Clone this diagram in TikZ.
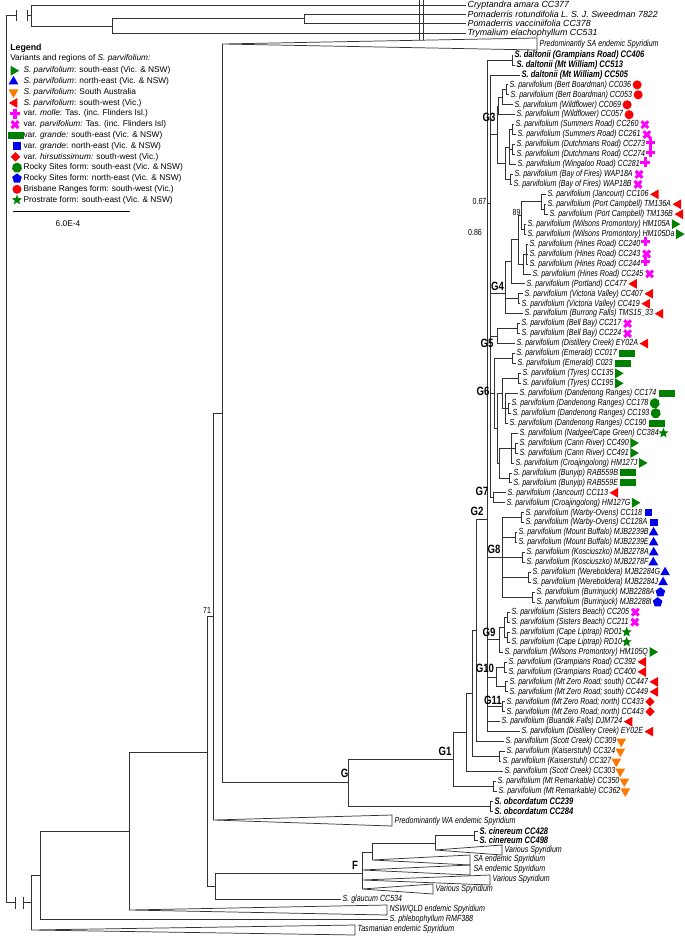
\documentclass[tikz,border=0pt]{standalone}
\usepackage{fontspec}
\setmainfont{Liberation Sans}
\newfontfamily\treefont[FakeStretch=0.8]{Liberation Sans}
\usetikzlibrary{shapes.geometric, shapes.misc, positioning, calc}
\definecolor{mkgreen}{RGB}{0,128,0}
\definecolor{mkblue}{RGB}{0,0,240}
\definecolor{mkorange}{RGB}{255,120,0}
\definecolor{mkred}{RGB}{250,0,0}
\definecolor{mkpink}{RGB}{255,0,255}
\tikzset{
  branch/.style={line width=0.55pt, draw=black!80},
  leaf/.style={anchor=west, inner sep=1pt, font=\treefont\itshape\fontsize{6.65}{7}\selectfont},
  ogleaf/.style={anchor=west, inner sep=1pt, font=\itshape\fontsize{6.65}{7}\selectfont},
  boldleaf/.style={leaf, font=\treefont\bfseries\itshape\fontsize{7.1}{8}\selectfont},
  glab/.style={inner sep=0pt, font=\treefont\bfseries\fontsize{9}{10}\selectfont},
  supp/.style={inner sep=0pt, font=\treefont\fontsize{6.6}{7}\selectfont},
  legtext/.style={anchor=west, inner sep=0pt, font=\fontsize{6.25}{7}\selectfont},
  mk/.style={inner sep=0pt, outer sep=0pt, draw=none},
  mkse/.style={mk, regular polygon, regular polygon sides=3, shape border rotate=-90, minimum size=8.5pt, fill=mkgreen},
  mkne/.style={mk, regular polygon, regular polygon sides=3, minimum size=8.5pt, fill=mkblue},
  mksa/.style={mk, regular polygon, regular polygon sides=3, shape border rotate=180, minimum size=8.5pt, fill=mkorange},
  mksw/.style={mk, regular polygon, regular polygon sides=3, shape border rotate=90, minimum size=8.5pt, fill=mkred},
  mkx/.style={mk, cross out, draw=mkpink, line width=2.3pt, minimum size=5pt},
  mkplus/.style={mkx, rotate=45},
  mkgrse/.style={mk, rectangle, minimum width=12pt, minimum height=5.2pt, fill=mkgreen},
  mkgrne/.style={mk, rectangle, minimum size=5.6pt, fill=mkblue},
  mkhir/.style={mk, diamond, minimum size=7pt, fill=mkred},
  mkrse/.style={mk, regular polygon, regular polygon sides=7, minimum size=7.6pt, fill=mkgreen},
  mkrne/.style={mk, regular polygon, regular polygon sides=5, minimum size=7.6pt, fill=mkblue},
  mkbr/.style={mk, circle, minimum size=6.8pt, fill=mkred},
  mkpr/.style={mk, star, star points=5, star point ratio=2.3, minimum size=8pt, fill=mkgreen}
}
\pgfmathdeclarefunction{ry}{1}{\pgfmathparse{55+(#1-1)*9.95}}

\begin{document}
\begin{tikzpicture}[x=0.75pt, y=-0.75pt]
  \useasboundingbox (0,0) rectangle (685,936);

  % Outgroup
  \node[ogleaf] (cry) at (466,5) {Cryptandra amara CC377};
  \node[ogleaf] (rot) at (466,14) {Pomaderris rotundifolia L. S. J. Sweedman 7822};
  \node[ogleaf] (vac) at (466,23.5) {Pomaderris vacciniifolia CC378};
  \node[ogleaf] (try) at (466,33) {Trymalium elachophyllum CC531};
  \coordinate (root) at (6.6,459);
  \coordinate (o31) at (31,15.5);
  \coordinate (o112) at (112,26);
  \coordinate (o304) at (304,18.75);
  \coordinate (brk1) at (16.7,15.5);
  \coordinate (brk2) at (27,15.5);
  \coordinate (brk3) at (15,902.75);
  \coordinate (brk4) at (23,902.75);
  \draw[branch] (419,0) -- (419,40);
  \draw[branch] (423,0) -- (423,40);

  % Leaves of the ingroup
  \node[boldleaf] (l1) at (513,{ry(1)}) {S. daltonii (Grampians Road) CC406};
  \node[boldleaf] (l2) at (515,{ry(2)}) {S. daltonii (Mt William) CC513};
  \node[boldleaf] (l3) at (520,{ry(3)}) {S. daltonii (Mt William) CC505};
  \foreach \n/\x/\t in {
    4/508/{(Bert Boardman) CC036}, 5/509/{(Bert Boardman) CC053},
    6/513/{(Wildflower) CC069}, 7/515/{(Wildflower) CC057},
    8/514/{(Summers Road) CC260}, 9/516/{(Summers Road) CC261},
    10/515/{(Dutchmans Road) CC273}, 11/515/{(Dutchmans Road) CC274},
    12/516/{(Wingaloo Road) CC281}, 13/513/{(Bay of Fires) WAP18A},
    14/512/{(Bay of Fires) WAP18B}, 15/546/{(Jancourt) CC106},
    16/546/{(Port Campbell) TM136A}, 17/548/{(Port Campbell) TM136B},
    18/526/{(Wilsons Promontory) HM105A}, 19/526/{(Wilsons Promontory) HM105Da},
    20/528/{(Hines Road) CC240}, 21/528/{(Hines Road) CC243},
    22/528/{(Hines Road) CC244}, 23/531/{(Hines Road) CC245},
    24/525/{(Portland) CC477}, 25/523/{(Victoria Valley) CC407},
    26/520/{(Victoria Valley) CC419}, 27/523/{(Burrong Falls) TMS15\_33},
    28/520/{(Bell Bay) CC217}, 29/520/{(Bell Bay) CC224},
    30/515/{(Distillery Creek) EY02A}, 31/515/{(Emerald) CC017},
    32/516/{(Emerald) C023}, 33/521/{(Tyres) CC135},
    34/521/{(Tyres) CC195}, 35/518/{(Dandenong Ranges) CC174},
    36/510/{(Dandenong Ranges) CC178}, 37/511/{(Dandenong Ranges) CC193},
    38/508/{(Dandenong Ranges) CC190}, 39/518/{(Nadgee/Cape Green) CC384},
    40/518/{(Cann River) CC490}, 41/518/{(Cann River) CC491},
    42/514/{(Croajingolong) HM127J}, 43/512/{(Bunyip) RAB559B},
    44/512/{(Bunyip) RAB559E}, 45/506/{(Jancourt) CC113},
    46/505/{(Croajingolong) HM127G}, 47/524/{(Warby-Ovens) CC118},
    48/524/{(Warby-Ovens) CC128A}, 49/517/{(Mount Buffalo) MJB2239B},
    50/517/{(Mount Buffalo) MJB2239E}, 51/525/{(Kosciuszko) MJB2278A},
    52/525/{(Kosciuszko) MJB2278F}, 53/531/{(Wereboldera) MJB2284G},
    54/531/{(Wereboldera) MJB2284J}, 55/535/{(Burrinjuck) MJB2288A},
    56/535/{(Burrinjuck) MJB2288I}, 57/510/{(Sisters Beach) CC205},
    58/510/{(Sisters Beach) CC211}, 59/510/{(Cape Liptrap) RD01},
    60/510/{(Cape Liptrap) RD10}, 61/503/{(Wilsons Promontory) HM105Q},
    62/507/{(Grampians Road) CC392}, 63/507/{(Grampians Road) CC400},
    64/508/{(Mt Zero Road; south) CC447}, 65/508/{(Mt Zero Road; south) CC449},
    66/505/{(Mt Zero Road; north) CC433}, 67/505/{(Mt Zero Road; north) CC443},
    68/500/{(Buandik Falls) DJM724}, 69/520/{(Distillery Creek) EY02E},
    70/504/{(Scott Creek) CC309}, 71/505/{(Kaiserstuhl) CC324},
    72/501/{(Kaiserstuhl) CC327}, 73/503/{(Scott Creek) CC303},
    74/496/{(Mt Remarkable) CC350}, 75/497/{(Mt Remarkable) CC362}}
    \node[leaf] (l\n) at (\x,{ry(\n)}) {S. parvifolium \t};
  \node[boldleaf] (l76) at (493,{ry(76)}) {S. obcordatum CC239};
  \node[boldleaf] (l77) at (493,{ry(77)}) {S. obcordatum CC284};

  % Other Spyridium
  \node[boldleaf] (c1) at (478,831) {S. cinereum CC428};
  \node[boldleaf] (c2) at (478,840) {S. cinereum CC498};
  \node[leaf] (glau) at (341,899.5) {S. glaucum CC534};
  \node[leaf] (phl) at (388,919) {S. phlebophyllum RMF388};

  % Internal nodes of G3 to G7
  \coordinate (dal) at (512,{ry(1.5)});
  \coordinate (bb) at (506,{ry(4.5)});
  \coordinate (w1) at (502,{ry(5.25)});
  \coordinate (w2) at (498,{ry(6.125)});
  \coordinate (sr) at (512,{ry(8.5)});
  \coordinate (dr) at (512,{ry(10.5)});
  \coordinate (t1) at (509,{ry(10.25)});
  \coordinate (bf) at (510,{ry(13.5)});
  \coordinate (t2) at (505,{ry(11.875)});
  \coordinate (g3) at (497,{ry(9)});
  \coordinate (pc) at (544,{ry(16.5)});
  \coordinate (jp) at (541,{ry(15.75)});
  \coordinate (wp) at (524,{ry(18.5)});
  \coordinate (n89) at (521,{ry(17.125)});
  \coordinate (h1) at (526,{ry(21)});
  \coordinate (hn) at (523,{ry(22)});
  \coordinate (n086) at (518,{ry(19.5625)});
  \coordinate (pt) at (511,{ry(21.78)});
  \coordinate (vv) at (518,{ry(25.5)});
  \coordinate (g4) at (505,293);
  \coordinate (bb2) at (517,{ry(28.5)});
  \coordinate (g5) at (497,{ry(29.25)});
  \coordinate (em) at (512,{ry(31.5)});
  \coordinate (ty) at (518,{ry(33.5)});
  \coordinate (d2) at (508,{ry(36.5)});
  \coordinate (dd) at (505,{ry(36.5)});
  \coordinate (tdd) at (502,{ry(35)});
  \coordinate (cr) at (515,{ry(40.5)});
  \coordinate (cg) at (511,{ry(40.5)});
  \coordinate (bu) at (509,{ry(43.5)});
  \coordinate (n6b) at (499,{ry(42)});
  \coordinate (n6a) at (497,{ry(38.5)});
  \coordinate (g6) at (494,{ry(35)});
  \coordinate (g7) at (493,{ry(45.5)});
  \coordinate (inl) at (490,203);

  % Internal nodes of G8 to G11 and G1
  \coordinate (wo) at (521,{ry(47.5)});
  \coordinate (mb) at (515,{ry(49.5)});
  \coordinate (ko) at (522,{ry(51.5)});
  \coordinate (we) at (528,{ry(53.5)});
  \coordinate (bj) at (532,{ry(55.5)});
  \coordinate (g8) at (502,{ry(51.5)});
  \coordinate (sb) at (507,{ry(57.5)});
  \coordinate (lp) at (507,{ry(59.5)});
  \coordinate (sl) at (504,{ry(58.5)});
  \coordinate (g9) at (499,{ry(59.75)});
  \coordinate (gr) at (504,{ry(62.5)});
  \coordinate (mz) at (505,{ry(64.5)});
  \coordinate (g10) at (496,{ry(63.5)});
  \coordinate (g11) at (502,{ry(66.5)});
  \coordinate (lad) at (487,519);
  \coordinate (cN) at (476,630.3);
  \coordinate (ks) at (499,{ry(71.5)});
  \coordinate (bN) at (472,693.4);
  \coordinate (aN) at (466,732.4);
  \coordinate (mr) at (493,{ry(74.5)});
  \coordinate (g1) at (453,759.4);
  \coordinate (ob) at (490,{ry(76.5)});
  \coordinate (gN) at (348,782.8);

  % Backbone and collapsed clades
  \coordinate (saA) at (222,44);
  \coordinate (n222) at (222,413.4);
  \coordinate (waA) at (213,820);
  \coordinate (n213) at (213,616.7);
  \coordinate (n207) at (207,751.9);
  \coordinate (n215) at (215,886.5);
  \coordinate (fN) at (362,873);
  \coordinate (f1) at (372,852);
  \coordinate (cin) at (435,843);
  \coordinate (cinb) at (474,835.5);
  \coordinate (v1A) at (435,850);
  \coordinate (sa1A) at (372,860);
  \coordinate (sa2A) at (362,870);
  \coordinate (v2A) at (362,880);
  \coordinate (v3A) at (362,889);
  \coordinate (n129) at (129,831);
  \coordinate (nswA) at (129,910);
  \coordinate (n40) at (40,875.5);
  \coordinate (n31) at (31,902.75);
  \coordinate (tasA) at (31,930);

  \foreach \p/\c in {dal/l1.west, dal/l2.west,
    bb/l4.west, bb/l5.west, w1/bb, w1/l6.west, w2/w1, w2/l7.west,
    sr/l8.west, sr/l9.west, dr/l10.west, dr/l11.west, t1/sr, t1/dr, t1/l12.west,
    bf/l13.west, bf/l14.west, t2/t1, t2/bf, g3/w2, g3/t2,
    pc/l16.west, pc/l17.west, jp/l15.west, jp/pc, wp/l18.west, wp/l19.west,
    n89/jp, n89/wp, h1/l20.west, h1/l21.west, h1/l22.west, hn/h1, hn/l23.west,
    n086/n89, n086/hn, pt/n086, pt/l24.west, vv/l25.west, vv/l26.west,
    g4/pt, g4/vv, g4/l27.west,
    bb2/l28.west, bb2/l29.west, g5/bb2, g5/l30.west,
    em/l31.west, em/l32.west, ty/l33.west, ty/l34.west, d2/l36.west, d2/l37.west,
    dd/l35.west, dd/d2, dd/l38.west, tdd/ty, tdd/dd, cr/l40.west, cr/l41.west,
    cg/l39.west, cg/cr, cg/l42.west, bu/l43.west, bu/l44.west, n6b/cg, n6b/bu,
    n6a/tdd, n6a/n6b, g6/em, g6/n6a, g7/l45.west, g7/l46.west,
    inl/l3.west, inl/g3, inl/g4, inl/g5, inl/g6, inl/g7,
    wo/l47.west, wo/l48.west, mb/l49.west, mb/l50.west, ko/l51.west, ko/l52.west,
    we/l53.west, we/l54.west, bj/l55.west, bj/l56.west,
    g8/wo, g8/mb, g8/ko, g8/we, g8/bj,
    sb/l57.west, sb/l58.west, lp/l59.west, lp/l60.west, sl/sb, sl/lp, g9/sl, g9/l61.west,
    gr/l62.west, gr/l63.west, mz/l64.west, mz/l65.west, g10/gr, g10/mz,
    g11/l66.west, g11/l67.west,
    lad/dal, lad/inl, lad/g8, lad/g9, lad/g10, lad/g11, lad/l68.west, lad/l69.west,
    cN/lad, cN/l70.west, ks/l71.west, ks/l72.west, bN/cN, bN/ks, aN/bN, aN/l73.west,
    mr/l74.west, mr/l75.west, g1/aN, g1/mr, ob/l76.west, ob/l77.west, gN/g1, gN/ob,
    n222/saA, n222/gN, n213/n222, n213/waA, n207/n213, n207/n215,
    n215/fN, n215/glau.west, fN/f1, fN/sa2A, fN/v2A, fN/v3A, f1/cin, f1/sa1A,
    cin/cinb, cin/v1A, cinb/c1.west, cinb/c2.west,
    n129/n207, n129/nswA, n40/n129, n40/phl.west, n31/n40, n31/tasA,
    o31/cry.west, o31/o112, o112/o304, o112/try.west, o304/rot.west, o304/vac.west}
    \draw[branch] (\p) |- (\c);

  % Root with broken branches
  \draw[branch] (root) |- (brk1);
  \draw[branch] (brk2) -- (o31);
  \draw[branch] (root) |- (brk3);
  \draw[branch] (brk4) -- (n31);
  \draw[branch] ([yshift=-4pt]brk1) -- ([yshift=4pt]brk1);
  \draw[branch] ([yshift=-4pt]brk2) -- ([yshift=4pt]brk2);
  \draw[branch] ([yshift=-4.5pt]brk3) -- ([yshift=4.5pt]brk3);
  \draw[branch] ([yshift=-4.5pt]brk4) -- ([yshift=4.5pt]brk4);

  % Collapsed clades
  \draw[branch] (saA) -- (537,38) -- (537,50) -- cycle;
  \draw[branch] (waA) -- (392,815) -- (392,826) -- cycle;
  \draw[branch] (v1A) -- (502,845) -- (502,855) -- cycle;
  \draw[branch] (sa1A) -- (470,855) -- (470,865) -- cycle;
  \draw[branch] (sa2A) -- (470,865) -- (470,875) -- cycle;
  \draw[branch] (v2A) -- (490,875) -- (490,885) -- cycle;
  \draw[branch] (v3A) -- (433,884) -- (433,894) -- cycle;
  \draw[branch] (nswA) -- (387,905) -- (387,915) -- cycle;
  \draw[branch] (tasA) -- (355,925) -- (355,935) -- cycle;
  \node[leaf] (sal) at (538,44) {Predominantly SA endemic Spyridium};
  \node[leaf] (wal) at (393,821) {Predominantly WA endemic Spyridium};
  \node[leaf] (v1l) at (503,850.5) {Various Spyridium};
  \node[leaf] (sa1l) at (472,859.5) {SA endemic Spyridium};
  \node[leaf] (sa2l) at (472,869.5) {SA endemic Spyridium};
  \node[leaf] (v2l) at (491,879.5) {Various Spyridium};
  \node[leaf] (v3l) at (434,889.5) {Various Spyridium};
  \node[leaf] (nswl) at (388,909.5) {NSW/QLD endemic Spyridium};
  \node[leaf] (tasl) at (356,929.5) {Tasmanian endemic Spyridium};

  % Group labels and support values
  \node[glab] (G3l) at (489,117) {G3};
  \node[glab] (G4l) at (497.5,286) {G4};
  \node[glab] (G5l) at (487,343) {G5};
  \node[glab] (G6l) at (483,391) {G6};
  \node[glab] (G7l) at (482,491) {G7};
  \node[glab] (G2l) at (477,511) {G2};
  \node[glab] (G8l) at (494,549) {G8};
  \node[glab] (G9l) at (489,632) {G9};
  \node[glab] (G10l) at (485,668) {G10};
  \node[glab] (G11l) at (493,700) {G11};
  \node[glab] (G1l) at (445,751) {G1};
  \node[glab] (Gl) at (344.5,773) {G};
  \node[glab] (Fl) at (355,865) {F};
  \node[supp] (s067) at (479.5,201) {0.67};
  \node[supp] (s086) at (475,232) {0.86};
  \node[supp] (s89) at (516.5,212.5) {89};
  \node[supp] (s71) at (207,610) {71};

  % Markers
  \foreach \n in {4,5,6,7} \node[mkbr, right=0pt of l\n] (m\n) {};
  \foreach \n in {8,9,13,14,21,23,28,29,57,58} \node[mkx, right=1pt of l\n] (m\n) {};
  \foreach \n in {10,11,12,20,22} \node[mkplus, right=1pt of l\n] (m\n) {};
  \foreach \n in {15,16,17,24,25,26,27,30,45,62,63,64,65,68,69} \node[mksw, right=0pt of l\n] (m\n) {};
  \foreach \n in {18,19,33,34,40,41,42,46,61} \node[mkse, right=0pt of l\n] (m\n) {};
  \foreach \n in {31,32,35,38,43,44} \node[mkgrse, right=0.5pt of l\n] (m\n) {};
  \foreach \n in {36,37} \node[mkrse, right=0pt of l\n] (m\n) {};
  \foreach \n in {39,59,60} \node[mkpr, right=0pt of l\n] (m\n) {};
  \foreach \n in {47,48} \node[mkgrne, right=1pt of l\n] (m\n) {};
  \foreach \n in {49,50,51,52,53,54} \node[mkne, right=0pt of l\n] (m\n) {};
  \foreach \n in {55,56} \node[mkrne, right=0pt of l\n] (m\n) {};
  \foreach \n in {66,67} \node[mkhir, right=0pt of l\n] (m\n) {};
  \foreach \n in {70,71,72,73,74,75} \node[mksa, right=0pt of l\n] (m\n) {};

  % Legend
  \node[legtext, font=\bfseries\fontsize{6.6}{7}\selectfont] (legt) at (10,48.3) {Legend};
  \node[legtext] (legs) at (10,58.3) {Variants and regions of \textit{S. parvifolium:}};
  \node[mkse] (lm1) at (13.5,70.7) {};
  \node[legtext] (lt1) at (23.3,70.7) {\textit{S. parvifolium}: south-east (Vic. \& NSW)};
  \node[mkne] (lm2) at (13.5,81.5) {};
  \node[legtext] (lt2) at (23.3,81.5) {\textit{S. parvifolium}: north-east (Vic. \& NSW)};
  \node[mksa] (lm3) at (13.5,92.3) {};
  \node[legtext] (lt3) at (23.3,92.3) {\textit{S. parvifolium}: South Australia};
  \node[mksw] (lm4) at (14.5,103) {};
  \node[legtext] (lt4) at (23.3,103) {\textit{S. parvifolium}: south-west (Vic.)};
  \node[mkplus] (lm5) at (15,113.8) {};
  \node[legtext] (lt5) at (23.3,113.8) {var. \textit{molle}: Tas. (inc. Flinders Isl.)};
  \node[mkx] (lm6) at (15,124.6) {};
  \node[legtext] (lt6) at (23.3,124.6) {var. \textit{parvifolium:} Tas. (inc. Flinders Isl)};
  \node[mkgrse] (lm7) at (15.5,135.4) {};
  \node[legtext] (lt7) at (23.3,135.4) {var. \textit{grande:} south-east (Vic. \& NSW)};
  \node[mkgrne] (lm8) at (17,146.1) {};
  \node[legtext] (lt8) at (23.3,146.1) {var. \textit{grande}: north-east (Vic. \& NSW)};
  \node[mkhir] (lm9) at (15.5,156.9) {};
  \node[legtext] (lt9) at (23.3,156.9) {var. \textit{hirsutissimum:} south-west (Vic.)};
  \node[mkrse] (lm10) at (17,167.7) {};
  \node[legtext] (lt10) at (23.3,167.7) {Rocky Sites form: south-east (Vic. \& NSW)};
  \node[mkrne] (lm11) at (17,178.5) {};
  \node[legtext] (lt11) at (23.3,178.5) {Rocky Sites form: north-east (Vic. \& NSW)};
  \node[mkbr] (lm12) at (17,189.3) {};
  \node[legtext] (lt12) at (23.3,189.3) {Brisbane Ranges form: south-west (Vic.)};
  \node[mkpr] (lm13) at (17,200) {};
  \node[legtext] (lt13) at (23.3,200) {Prostrate form: south-east (Vic. \& NSW)};
  \coordinate (sc1) at (12.7,211.7);
  \coordinate (sc2) at (130,211.7);
  \draw[line width=0.7pt] (sc1) -- (sc2);
  \node[inner sep=0pt, font=\fontsize{6.25}{7}\selectfont] (scl) at (68,223.3) {6.0E-4};
\end{tikzpicture}
\end{document}
